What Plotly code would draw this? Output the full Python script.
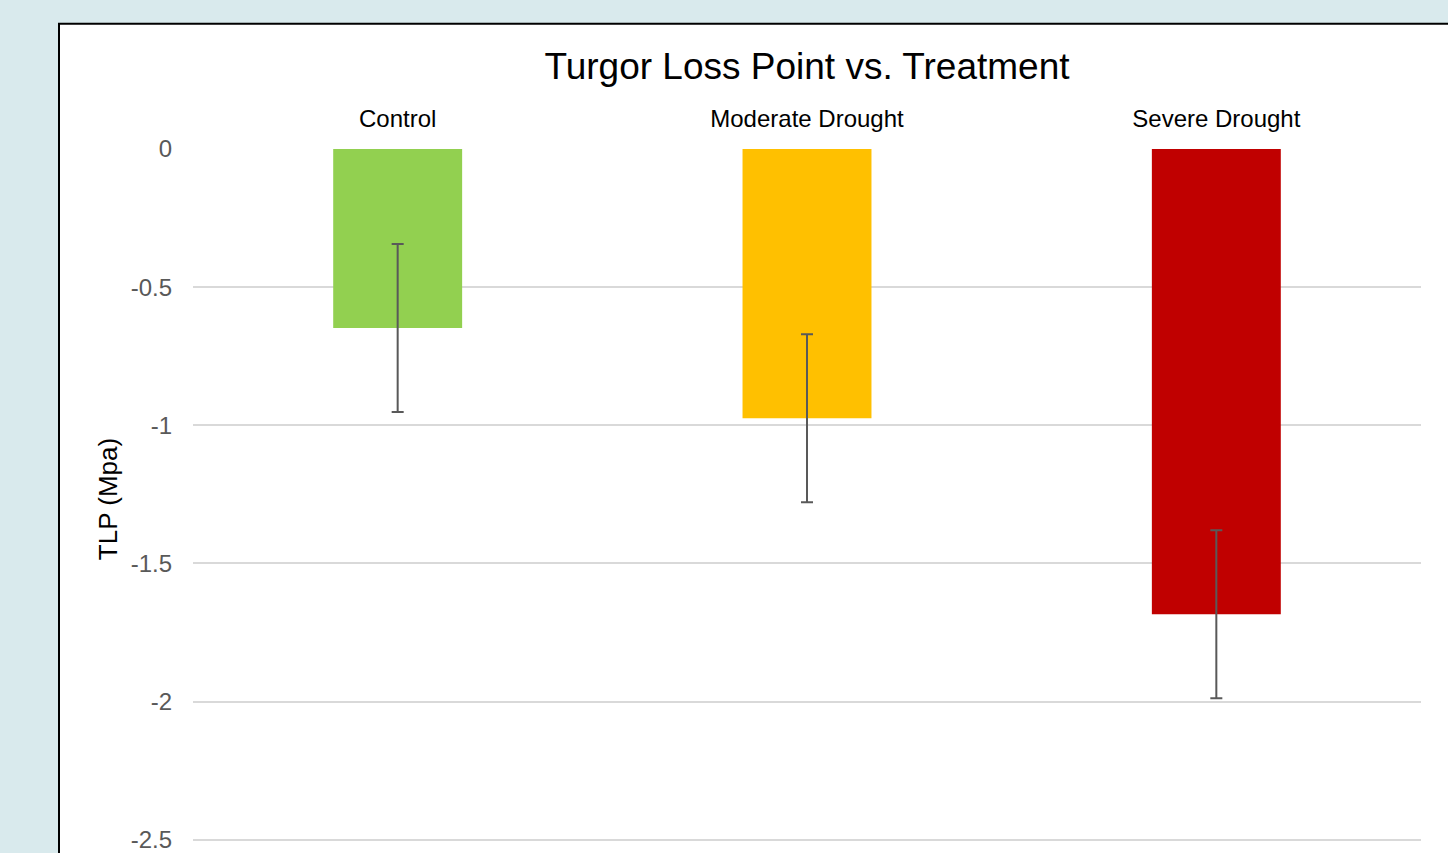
import plotly.graph_objects as go

categories = ["Control", "Moderate Drought", "Severe Drought"]
tlp_values = [-0.648, -0.974, -1.684]
tlp_errors = [0.304, 0.304, 0.304]
bar_colors = ["#92d050", "#ffc000", "#c00000"]
y_ticks = [0, -0.5, -1, -1.5, -2, -2.5]
y_tick_labels = ["0", "-0.5", "-1", "-1.5", "-2", "-2.5"]

W, H = 1448, 853
ml, mr, mt, mb = 193, 27, 149, 0
ph = H - mt - mb
pw = W - ml - mr
px_per_unit = 277.9
ymin = -ph / px_per_unit

fig = go.Figure()
fig.add_trace(go.Bar(
    x=categories, y=tlp_values,
    marker=dict(color=bar_colors, line=dict(width=0)),
    error_y=dict(type="data", array=tlp_errors, color="#595959", thickness=2, width=6),
    width=0.315,
))

def px_to_paper_x(px):
    return (px - ml) / pw

def px_to_paper_y(py):
    return (H - mb - py) / ph

fig.add_shape(type="rect", xref="paper", yref="paper",
              x0=px_to_paper_x(59), x1=px_to_paper_x(1500),
              y0=px_to_paper_y(900), y1=px_to_paper_y(23),
              fillcolor="white", line=dict(color="black", width=2), layer="below")

fig.update_layout(
    width=W, height=H,
    margin=dict(l=ml, r=mr, t=mt, b=mb, pad=0),
    paper_bgcolor="#d9eaed",
    plot_bgcolor="rgba(0,0,0,0)",
    showlegend=False,
    font=dict(family="Liberation Sans, Arial, sans-serif"),
    title=dict(text="Turgor Loss Point vs. Treatment", x=0.5, xref="paper",
               y=1 - 66 / H, yanchor="middle",
               font=dict(size=37, color="black")),
    xaxis=dict(side="top", showline=False, showgrid=False, ticks="",
               tickfont=dict(size=24, color="black"), ticklabelstandoff=16),
    yaxis=dict(range=[ymin, 0], tickvals=y_ticks, ticktext=y_tick_labels,
               showgrid=True, gridcolor="#d9d9d9", gridwidth=1.5,
               zeroline=False, showline=False, ticks="",
               ticklabeloverflow="allow",
               tickfont=dict(size=24, color="#595959"), ticklabelstandoff=20,
               title=dict(text="TLP (Mpa)", font=dict(size=26, color="black"), standoff=5)),
)

fig.write_html(
    "out.html",
    config={"displayModeBar": False},
    post_script="document.body.style.margin='0';document.body.style.background='#d9eaed';",
)
